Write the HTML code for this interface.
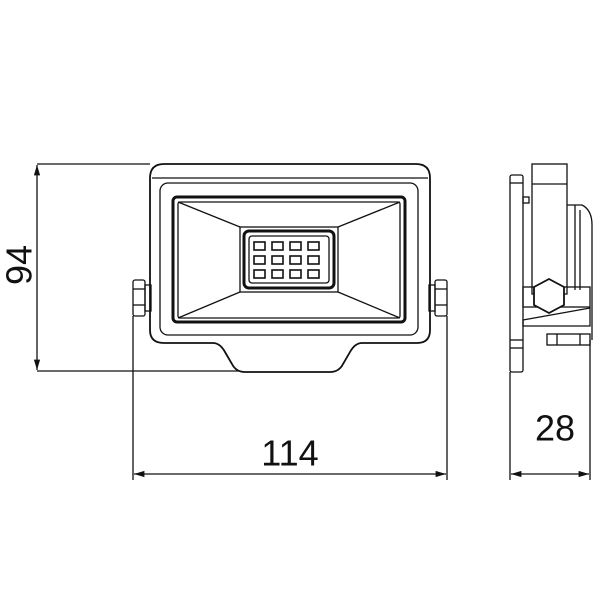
<!DOCTYPE html>
<html><head><style>body{margin:0;background:#fff}svg{display:block}</style></head><body>
<svg width="600" height="600" viewBox="0 0 600 600" xmlns="http://www.w3.org/2000/svg" fill="none" stroke="#111" stroke-width="1.3">
<defs><marker id="a" viewBox="0 0 10 10" refX="10" refY="5" markerWidth="8" markerHeight="8" orient="auto-start-reverse"><path d="M0,2 L10,5 L0,8 z" fill="#111" stroke="none"/></marker></defs>
<line x1="37" y1="164" x2="150" y2="164"/>
<line x1="37" y1="371" x2="240" y2="371"/>
<line x1="37" y1="165" x2="37" y2="370" marker-start="url(#a)" marker-end="url(#a)"/>
<text x="22" y="265" transform="rotate(-90 22 265)" text-anchor="middle" dominant-baseline="middle" font-family="Liberation Sans, sans-serif" font-size="36" fill="#111" stroke="none">94</text>
<path d="M164,164 H416 Q430,164 430,178 V330 Q430,343 417,343 H362 Q355,343 350,352 L343,364 Q339,372 330,372 H245 Q236,372 232,364 L225,352 Q220,343 213,343 H164 Q150,343 150,330 V178 Q150,164 164,164 Z" stroke-width="1.8"/>
<path d="M152,178 H428" />
<rect x="160" y="183" width="258" height="152" rx="8"/>
<rect x="173" y="197" width="232" height="125" rx="4" stroke-width="3"/>
<rect x="178" y="202" width="222" height="116" rx="2"/>
<rect x="240" y="227" width="98" height="65"/>
<line x1="178" y1="202" x2="240" y2="227"/><line x1="400" y1="202" x2="338" y2="227"/>
<line x1="178" y1="318" x2="240" y2="292"/><line x1="400" y1="318" x2="338" y2="292"/>
<rect x="244" y="231" width="90" height="57" rx="5" stroke-width="3"/>
<rect x="249" y="236" width="80" height="47" rx="3"/>
<g stroke-width="1.6">
<rect x="254" y="242" width="11" height="8"/><rect x="272" y="242" width="11" height="8"/><rect x="290" y="242" width="11" height="8"/><rect x="308" y="242" width="11" height="8"/>
<rect x="254" y="256" width="11" height="8"/><rect x="272" y="256" width="11" height="8"/><rect x="290" y="256" width="11" height="8"/><rect x="308" y="256" width="11" height="8"/>
<rect x="254" y="270" width="11" height="8"/><rect x="272" y="270" width="11" height="8"/><rect x="290" y="270" width="11" height="8"/><rect x="308" y="270" width="11" height="8"/>
</g>
<rect x="133" y="280" width="12" height="36" rx="2"/><rect x="145" y="285" width="6" height="26"/>
<line x1="133" y1="289" x2="145" y2="289"/><line x1="133" y1="305" x2="145" y2="305"/>
<rect x="435" y="280" width="12" height="36" rx="2"/><rect x="429" y="285" width="6" height="26"/>
<line x1="435" y1="289" x2="447" y2="289"/><line x1="435" y1="305" x2="447" y2="305"/>
<line x1="133" y1="316" x2="133" y2="480"/><line x1="447" y1="316" x2="447" y2="480"/>
<line x1="134" y1="474" x2="446" y2="474" marker-start="url(#a)" marker-end="url(#a)"/>
<text x="290" y="456" text-anchor="middle" dominant-baseline="middle" font-family="Liberation Sans, sans-serif" font-size="36" fill="#111" stroke="none">114</text>
<rect x="510" y="175" width="13" height="197" rx="2"/>
<line x1="510" y1="372" x2="510" y2="480"/>
<line x1="510" y1="183" x2="523" y2="183"/><line x1="510" y1="340" x2="523" y2="340"/><line x1="510" y1="348" x2="523" y2="348"/>
<rect x="523" y="197" width="6" height="6"/>
<rect x="532" y="164" width="35" height="130"/><line x1="532" y1="184" x2="567" y2="184"/>
<path d="M567,205 H582 Q592,210 592,225 V340"/>
<line x1="575" y1="205" x2="575" y2="290"/><line x1="580" y1="210" x2="580" y2="290"/>
<rect x="523" y="287" width="67" height="20"/>
<path d="M523,320 L590,308 V326 H523 Z"/>
<polygon points="549,279 564,287 564,305 549,313 534,305 534,287" fill="#fff" stroke-width="1.8"/>
<rect x="547" y="334" width="43" height="11"/><line x1="557" y1="334" x2="557" y2="345"/><line x1="580" y1="334" x2="580" y2="345"/>
<line x1="590" y1="340" x2="590" y2="480"/>
<line x1="511" y1="474" x2="589" y2="474" marker-start="url(#a)" marker-end="url(#a)"/>
<text x="555" y="431" text-anchor="middle" dominant-baseline="middle" font-family="Liberation Sans, sans-serif" font-size="36" fill="#111" stroke="none">28</text>
</svg>
</body></html>
